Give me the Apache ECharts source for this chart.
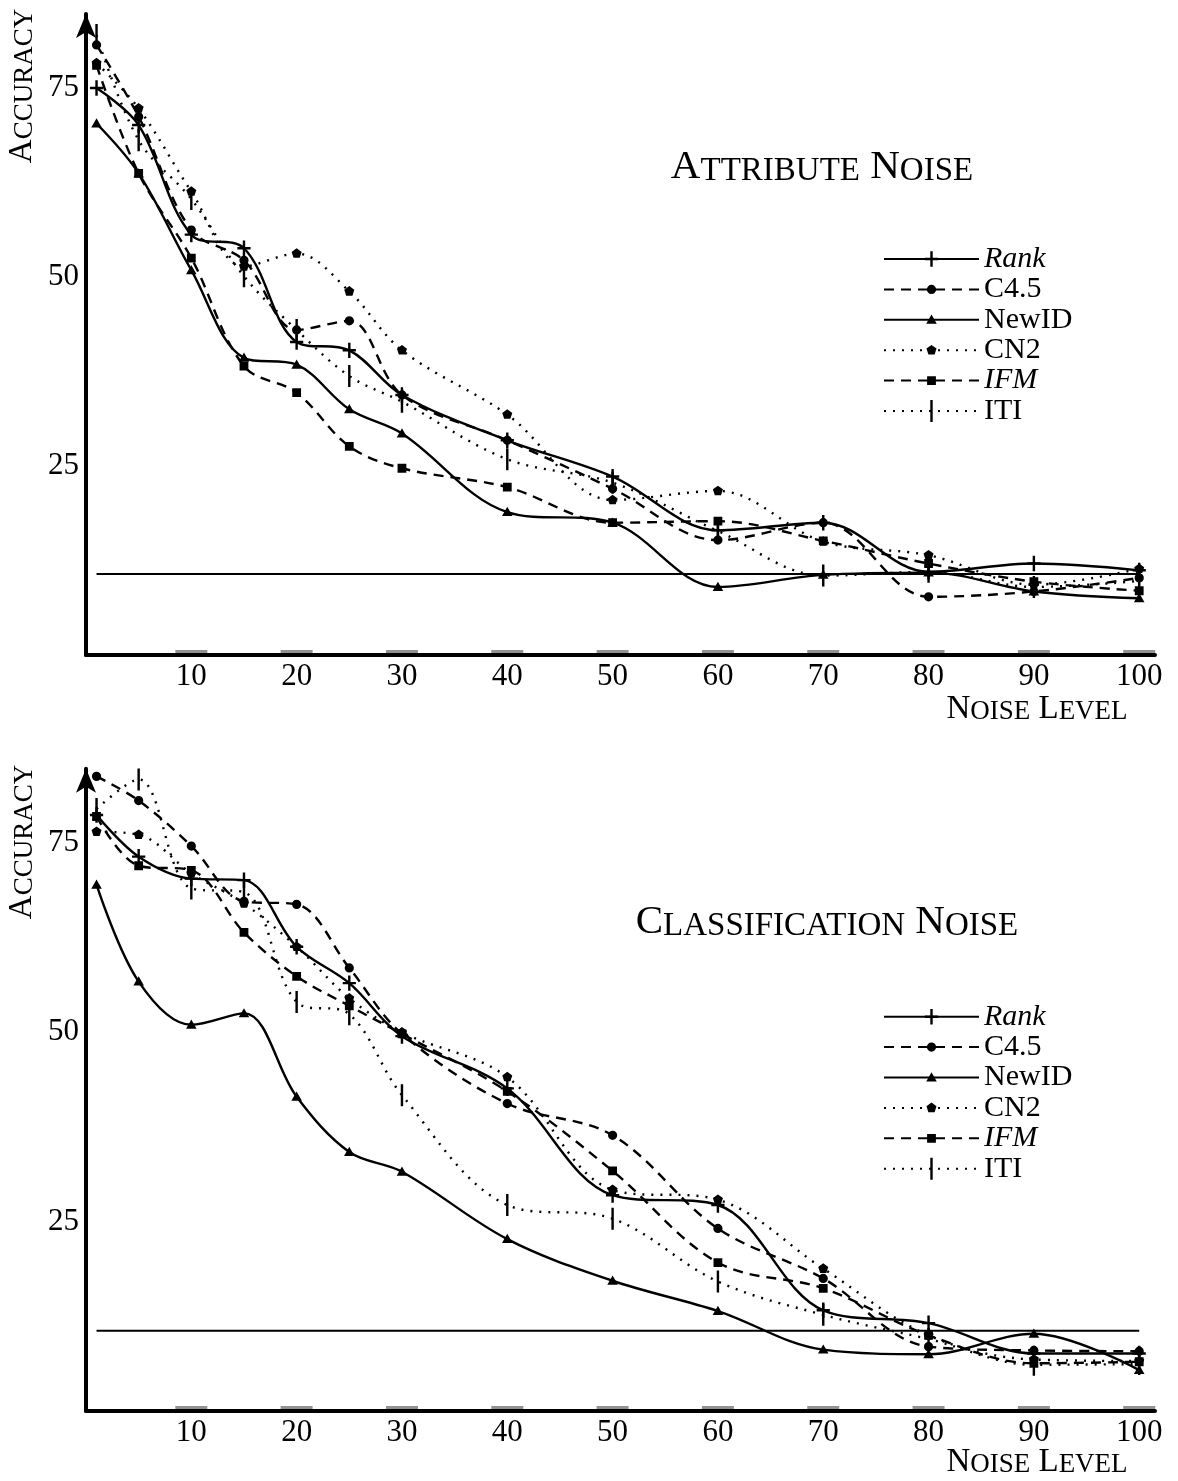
<!DOCTYPE html>
<html>
<head>
<meta charset="utf-8">
<title>Attribute / Classification Noise</title>
<script src="https://cdn.jsdelivr.net/npm/echarts@6.0.0/dist/echarts.min.js"></script>
<style>
  html, body { margin: 0; padding: 0; background: #fff; }
  #chart { width: 1178px; height: 1481px; }
</style>
</head>
<body>
<div id="chart"></div>
<script>
// noise levels on the x axis
const noiseLevels = [1, 5, 10, 15, 20, 25, 30, 40, 50, 60, 70, 80, 90, 100];
const xTickLevels = [10, 20, 30, 40, 50, 60, 70, 80, 90, 100];

// attribute noise (top chart)
const attrRank  = [75.0, 70.1, 55.6, 53.8, 41.4, 40.3, 34.4, 28.4, 23.6, 16.5, 17.5, 11.0, 12.1, 11.2];
const attrC45   = [80.7, 71.2, 56.2, 52.2, 43.0, 44.2, 34.4, 28.4, 22.0, 15.2, 17.5, 7.7, 8.4, 10.2];
const attrNewID = [70.3, 63.7, 50.9, 39.3, 38.4, 32.5, 29.3, 18.9, 17.5, 9.0, 10.6, 10.9, 8.4, 7.5];
const attrCN2   = [78.3, 72.3, 61.3, 51.4, 53.1, 48.1, 40.3, 31.8, 20.5, 21.7, 15.0, 13.2, 9.3, 11.4];
const attrIFM   = [78.0, 63.7, 52.5, 38.2, 34.7, 27.6, 24.7, 22.2, 17.5, 17.7, 15.1, 12.1, 9.7, 8.5];
const attrITI   = [82.0, 68.1, 60.3, 50.1, 43.0, 36.9, 33.5, 25.9, 22.8, 16.4, 10.5, 11.0, 9.0, 9.8];
const attrBaseline = 10.7;

// classification noise (bottom chart)
const classRank  = [78.7, 73.2, 70.3, 70.1, 61.3, 56.5, 49.5, 42.6, 28.5, 27.2, 13.3, 11.6, 7.6, 7.6];
const classC45   = [83.8, 80.6, 74.6, 67.3, 66.9, 58.5, 49.8, 40.6, 36.4, 24.1, 17.5, 8.5, 8.0, 7.9];
const classNewID = [69.5, 56.7, 51.0, 52.5, 41.5, 34.2, 31.6, 22.7, 17.2, 13.2, 8.1, 7.5, 10.2, 5.4];
const classCN2   = [76.5, 76.1, 71.0, 67.0, 61.3, 54.5, 50.0, 44.1, 29.2, 27.9, 18.8, 10.0, 6.8, 6.6];
const classIFM   = [78.5, 72.0, 71.4, 63.2, 57.4, 53.5, 49.8, 42.2, 31.7, 19.6, 16.2, 10.0, 6.3, 6.5];
const classITI   = [79.5, 83.4, 69.0, 68.5, 54.0, 52.4, 41.7, 27.2, 25.4, 17.1, 12.7, 9.5, 6.1, 6.2];
const classBaseline = 10.6;

const serif = "'Liberation Serif', 'DejaVu Serif', serif";

// every glyph sits in the same 20x20 box (tiny corner specks keep the box),
// so the legend icons keep the same proportions as the plotted markers
const box = ' M-10,-10 L-9.99,-10 L-10,-9.99 Z M10,10 L9.99,10 L10,9.99 Z';
const plusGlyph = 'path://M-1.1,-7 H1.1 V-1.1 H6 V1.1 H1.1 V7 H-1.1 V1.1 H-6 V-1.1 H-1.1 Z' + box;
const circleGlyph = 'path://M-4.2,0 A4.2,4.2 0 1,0 4.2,0 A4.2,4.2 0 1,0 -4.2,0 Z' + box;
const triangleGlyph = 'path://M0,-4.8 L4.8,3.6 L-4.8,3.6 Z' + box;
const pentagonGlyph = 'path://M0,-4.8 L4.56,-1.48 L2.82,3.88 L-2.82,3.88 L-4.56,-1.48 Z' + box;
const squareGlyph = 'path://M-4,-4 H4 V4 H-4 Z' + box;
const barGlyph = 'path://M-1.1,-10 H1.1 V10 H-1.1 Z' + box;

const dashed = [10, 7];
const dotted = [2, 7];

const methods = [
  { name: 'Rank',  glyph: plusGlyph,     dash: 'solid' },
  { name: 'C4.5',  glyph: circleGlyph,   dash: dashed },
  { name: 'NewID', glyph: triangleGlyph, dash: 'solid' },
  { name: 'CN2',   glyph: pentagonGlyph, dash: dotted },
  { name: 'IFM',   glyph: squareGlyph,   dash: dashed },
  { name: 'ITI',   glyph: barGlyph,      dash: dotted },
];
const attrValues = [attrRank, attrC45, attrNewID, attrCN2, attrIFM, attrITI];
const classValues = [classRank, classC45, classNewID, classCN2, classIFM, classITI];

const chart = echarts.init(document.getElementById('chart'));

const lineSeries = (g, m, values) => ({
  type: 'line',
  name: m.name,
  xAxisIndex: g,
  yAxisIndex: g,
  data: noiseLevels.map((x, i) => [x, values[i]]),
  smooth: 0.35,
  clip: false,
  symbol: m.glyph,
  symbolSize: 22,
  itemStyle: { color: '#000', borderWidth: 0 },
  lineStyle: { color: '#000', width: 2.4, type: m.dash, cap: 'butt' },
  emphasis: { disabled: true },
  z: 3,
});

const baselineSeries = (g, value) => ({
  type: 'line',
  name: 'baseline',
  xAxisIndex: g,
  yAxisIndex: g,
  data: [[1, value], [100, value]],
  symbol: 'none',
  lineStyle: { color: '#000', width: 2 },
  silent: true,
  z: 2,
});

// grey dashes sitting on the x axis at every label
const tickDashSeries = (g) => ({
  type: 'scatter',
  xAxisIndex: g,
  yAxisIndex: g,
  data: xTickLevels.map((x) => [x, 0]),
  symbol: 'rect',
  symbolSize: [32, 3],
  symbolOffset: [0, -3.5],
  itemStyle: { color: '#777' },
  clip: false,
  silent: true,
  z: 4,
});

const xAxisFor = (g) => ({
  gridIndex: g,
  type: 'value',
  min: 0,
  max: 101.5,
  interval: 10,
  axisLine: { lineStyle: { color: '#000', width: 4 } },
  axisTick: { show: false },
  splitLine: { show: false },
  axisLabel: {
    fontFamily: serif,
    fontSize: 31,
    color: '#000',
    margin: 6,
    formatter: (v) => (v > 0 && v <= 100 ? String(v) : ''),
  },
});

const yAxisFor = (g) => ({
  gridIndex: g,
  type: 'value',
  min: 0,
  max: 84.8,
  interval: 25,
  axisLine: {
    show: true,
    symbol: ['none', 'arrow'],
    symbolSize: [15, 24],
    lineStyle: { color: '#000', width: 4 },
  },
  axisTick: { show: false },
  splitLine: { show: false },
  axisLabel: {
    fontFamily: serif,
    fontSize: 31,
    color: '#000',
    margin: 7,
    formatter: (v) => (v === 25 || v === 50 || v === 75 ? String(v) : ''),
  },
});

const legendFor = (top) => ({
  orient: 'vertical',
  left: 878,
  top: top,
  itemWidth: 95,
  itemHeight: 27.5,
  itemGap: 0.4,
  selectedMode: false,
  data: methods.map((m) => m.name),
  formatter: (name) => (name === 'Rank' || name === 'IFM' ? '{it|' + name + '}' : name),
  textStyle: {
    fontFamily: serif,
    fontSize: 30,
    lineHeight: 30,
    color: '#000',
    rich: { it: { fontFamily: serif, fontStyle: 'italic', fontSize: 30, lineHeight: 30 } },
  },
});

// small caps: big capital + smaller capitals
const capsRich = (big, small) => ({
  b: { fontFamily: serif, fontSize: big, verticalAlign: 'bottom', fill: '#000' },
  s: { fontFamily: serif, fontSize: small, verticalAlign: 'bottom', fill: '#000' },
});

const capsText = (x, y, text, big, small, opts) => Object.assign({
  type: 'text',
  x: x,
  y: y,
  style: {
    text: text,
    rich: capsRich(big, small),
    fontFamily: serif,
    fontSize: big,
    align: 'center',
    verticalAlign: 'middle',
    fill: '#000',
  },
}, opts || {});

const option = {
  animation: false,
  backgroundColor: '#fff',
  grid: [
    { left: 86, top: 13.9, width: 1069, height: 641.1 },
    { left: 86, top: 768.8, width: 1069, height: 642.2 },
  ],
  xAxis: [xAxisFor(0), xAxisFor(1)],
  yAxis: [yAxisFor(0), yAxisFor(1)],
  legend: [legendFor(239), legendFor(996.7)],
  graphic: [
    capsText(22, 86, '{b|A}{s|CCURACY}', 33, 27, { rotation: Math.PI / 2 }),
    capsText(22, 842, '{b|A}{s|CCURACY}', 33, 27, { rotation: Math.PI / 2 }),
    capsText(822, 167, '{b|A}{s|TTRIBUTE}{b| N}{s|OISE}', 41, 33),
    capsText(827, 922, '{b|C}{s|LASSIFICATION}{b| N}{s|OISE}', 41, 33),
    capsText(1037, 709, '{b|N}{s|OISE}{b| L}{s|EVEL}', 33, 27),
    capsText(1037, 1462, '{b|N}{s|OISE}{b| L}{s|EVEL}', 33, 27),
  ],
  series: [
    baselineSeries(0, attrBaseline),
    tickDashSeries(0),
    ...methods.map((m, i) => lineSeries(0, m, attrValues[i])),
    baselineSeries(1, classBaseline),
    tickDashSeries(1),
    ...methods.map((m, i) => lineSeries(1, m, classValues[i])),
  ],
};

chart.setOption(option);
</script>
</body>
</html>
